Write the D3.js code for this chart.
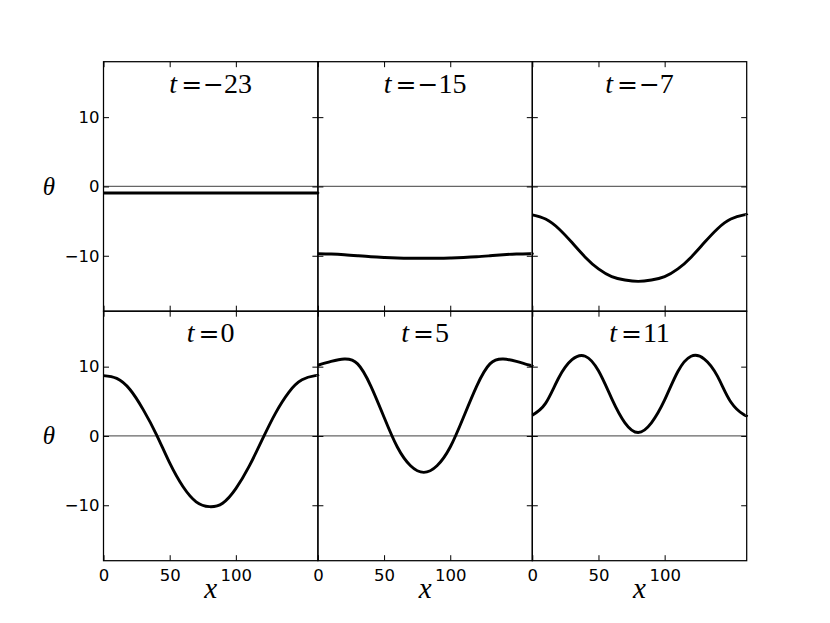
<!DOCTYPE html>
<html>
<head>
<meta charset="utf-8">
<script src="https://cdn.jsdelivr.net/npm/d3@7"></script>
<style>
  body { margin: 0; background: #fff; }
  svg { display: block; }
</style>
</head>
<body>
<div id="chart"></div>
<script>
// sample positions along x (shared by every panel)
const xs = [0, 10, 20, 30, 40, 50, 60, 70, 80, 90, 100, 110, 120, 130, 140, 150, 160, 162];

// panel times
const times = [-23, -15, -7, 0, 5, 11];

// theta values
const thetaM23 = [-0.95, -0.95, -0.95, -0.95, -0.95, -0.95, -0.95, -0.95, -0.95, -0.95, -0.95, -0.95, -0.95, -0.95, -0.95, -0.95, -0.95, -0.95];
const thetaM15 = [-9.7, -9.75, -9.85, -10.0, -10.15, -10.25, -10.32, -10.35, -10.35, -10.35, -10.32, -10.25, -10.15, -10.0, -9.85, -9.75, -9.7, -9.7];
const thetaM7 = [-4.1, -4.7, -6.1, -8.1, -10.2, -11.9, -13.0, -13.5, -13.7, -13.5, -13.0, -11.9, -10.2, -8.1, -6.1, -4.7, -4.1, -4.1];
const theta0 = [8.7, 8.3, 6.7, 3.8, 0.2, -3.9, -7.3, -9.5, -10.2, -9.7, -7.6, -4.4, -0.5, 3.3, 6.3, 8.1, 8.7, 8.7];
const theta5 = [10.2, 10.75, 11.1, 10.4, 7.2, 2.7, -1.6, -4.3, -5.25, -4.3, -1.6, 2.7, 7.2, 10.4, 11.1, 10.75, 10.2, 10.2];
const theta11 = [3.0, 4.7, 8.4, 11.0, 11.5, 9.4, 5.4, 1.9, 0.5, 1.9, 5.2, 9.3, 11.5, 11.1, 8.6, 4.9, 3.05, 3.0];

const series = [thetaM23, thetaM15, thetaM7, theta0, theta5, theta11];

const xTicks = [0, 50, 100];
const yTicks = [-10, 0, 10];

const width = 830, height = 623;
const marginLeft = 103.5, marginTop = 61.7, pw = 214.4, ph = 249.5;

const svg = d3.select("#chart").append("svg")
    .attr("width", width)
    .attr("height", height);

const x = d3.scaleLinear().domain([0, 162]).range([0, pw]);
const y = d3.scaleLinear().domain([-18, 18]).range([ph, 0]);

const line = d3.line()
    .x((d, i) => x(xs[i]))
    .y(d => y(d))
    .curve(d3.curveNatural);

const fmt = d3.format("d");

const styleAxis = (g) => {
    g.select(".domain").remove();
    g.selectAll(".tick line").attr("stroke", "#000").attr("stroke-width", 1);
    g.selectAll("text")
        .attr("font-family", "'DejaVu Sans', sans-serif")
        .attr("font-size", "16.5px")
        .attr("fill", "#000");
};

series.forEach((vals, i) => {
    const col = i % 3, row = Math.floor(i / 3);
    const g = svg.append("g")
        .attr("transform", `translate(${marginLeft + col * pw},${marginTop + row * ph})`);

    // zero reference line
    g.append("line")
        .attr("x1", 0).attr("x2", pw)
        .attr("y1", y(0)).attr("y2", y(0))
        .attr("stroke", "#666")
        .attr("stroke-width", 1.2);

    g.append("path")
        .datum(vals)
        .attr("d", line)
        .attr("fill", "none")
        .attr("stroke", "#000")
        .attr("stroke-width", 2.9)
        .attr("stroke-linejoin", "round");

    // ticks on all four sides, pointing inward
    g.append("g")
        .call(d3.axisLeft(y).tickValues(yTicks).tickSizeInner(-5.5).tickSizeOuter(0).tickPadding(4)
            .tickFormat(col === 0 ? fmt : () => ""))
        .call(styleAxis);

    g.append("g")
        .attr("transform", `translate(${pw},0)`)
        .call(d3.axisRight(y).tickValues(yTicks).tickSizeInner(-5.5).tickSizeOuter(0).tickFormat(() => ""))
        .call(styleAxis);

    g.append("g")
        .call(d3.axisTop(x).tickValues(xTicks).tickSizeInner(-5.5).tickSizeOuter(0).tickFormat(() => ""))
        .call(styleAxis);

    g.append("g")
        .attr("transform", `translate(0,${ph})`)
        .call(d3.axisBottom(x).tickValues(xTicks).tickSizeInner(-5.5).tickSizeOuter(0).tickPadding(8.5)
            .tickFormat(row === 1 ? fmt : () => ""))
        .call(styleAxis);

    g.append("rect")
        .attr("width", pw)
        .attr("height", ph)
        .attr("fill", "none")
        .attr("stroke", "#000")
        .attr("stroke-width", 1.25);

    // panel title: t = value, with math-style operators
    const title = g.append("text")
        .attr("x", pw / 2)
        .attr("y", 31)
        .attr("text-anchor", "middle")
        .attr("font-family", "'Liberation Serif', serif")
        .attr("font-size", "28px");
    title.append("tspan").attr("font-style", "italic").text("t");
    title.append("tspan").attr("dx", 4).attr("font-family", "'DejaVu Serif', serif").attr("font-size", "25px").text("=");
    const v = times[i];
    if (v < 0) {
        title.append("tspan").attr("dx", 1).attr("font-family", "'DejaVu Serif', serif").attr("font-size", "25px").text("\u2212");
        title.append("tspan").text(String(-v));
    } else {
        title.append("tspan").attr("dx", 1).text(String(v));
    }

    // axis labels
    if (col === 0) {
        svg.append("text")
            .attr("x", 49)
            .attr("y", marginTop + row * ph + ph / 2 + 8.5)
            .attr("text-anchor", "middle")
            .attr("font-family", "'Liberation Serif', serif")
            .attr("font-style", "italic")
            .attr("font-size", "25px")
            .text("θ");
    }
    if (row === 1) {
        svg.append("text")
            .attr("x", marginLeft + col * pw + pw / 2)
            .attr("y", 598.3)
            .attr("text-anchor", "middle")
            .attr("font-family", "'Liberation Serif', serif")
            .attr("font-style", "italic")
            .attr("font-size", "29px")
            .text("x");
    }
});
</script>
</body>
</html>
